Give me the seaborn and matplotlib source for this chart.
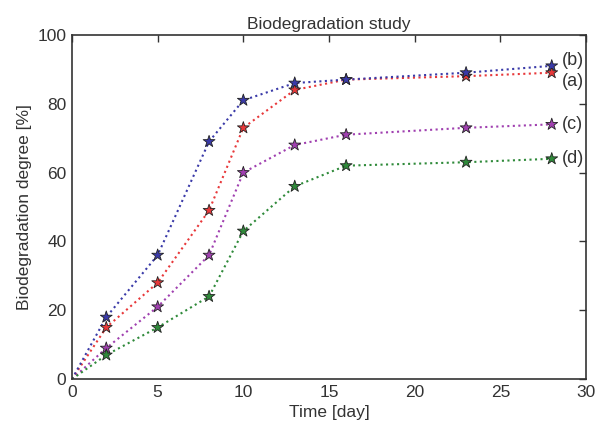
import pandas as pd
import seaborn as sns
import matplotlib.pyplot as plt

# Data
days = [0, 2, 5, 8, 10, 13, 16, 23, 28]
deg_a = [0, 15, 28, 49, 73, 84, 87, 88, 89]
deg_b = [0, 18, 36, 69, 81, 86, 87, 89, 91]
deg_c = [0, 9, 21, 36, 60, 68, 71, 73, 74]
deg_d = [0, 7, 15, 24, 43, 56, 62, 63, 64]
labels = ["(a)", "(b)", "(c)", "(d)"]

rows = []
for lab, vals in zip(labels, [deg_a, deg_b, deg_c, deg_d]):
    for t, v in zip(days, vals):
        rows.append({"Time": t, "Degree": v, "Sample": lab})
df = pd.DataFrame(rows)

sns.set_style("white")
plt.rcParams['font.family'] = ['Liberation Sans', 'DejaVu Sans']

colors = {"(a)": "#e8383a", "(b)": "#3a3aa8", "(c)": "#a040b0", "(d)": "#2f8a3a"}

fig = plt.figure(figsize=(5.97, 4.25), dpi=100)
ax = fig.add_axes([0.1206, 0.108, 0.861, 0.81])

sns.lineplot(data=df, x="Time", y="Degree", hue="Sample", palette=colors,
             linestyle=":", linewidth=1.5, legend=False, ax=ax)
sns.scatterplot(data=df[df["Time"] > 0], x="Time", y="Degree", hue="Sample",
                palette=colors, marker="*", s=80, edgecolor="#222222",
                linewidth=0.6, legend=False, ax=ax, zorder=3)

# labels to the right of the last point, nudged apart where (a) and (b) meet
nudge = {"(a)": -6, "(b)": 4, "(c)": 0, "(d)": 0}
for lab, vals in zip(labels, [deg_a, deg_b, deg_c, deg_d]):
    ax.annotate(lab, (days[-1], vals[-1]), xytext=(7, nudge[lab]), textcoords="offset points",
                va="center", ha="left", fontsize=13, color="#333333",
                annotation_clip=False)

ax.set_xlim(0, 30)
ax.set_ylim(0, 100)
ax.set_xticks([0, 5, 10, 15, 20, 25, 30])
ax.set_yticks([0, 20, 40, 60, 80, 100])
ax.tick_params(direction="in", top=True, right=True, length=5, width=1,
               labelsize=12.5, colors="#333333", pad=4)
for sp in ax.spines.values():
    sp.set_color("#333333")
    sp.set_linewidth(1.2)

ax.set_xlabel("Time [day]", fontsize=12.5, color="#333333")
ax.set_ylabel("Biodegradation degree [%]", fontsize=12.5, color="#333333")
ax.set_title("Biodegradation study", fontsize=12.5, color="#333333", pad=4)

fig.savefig("out.png", dpi=100)
